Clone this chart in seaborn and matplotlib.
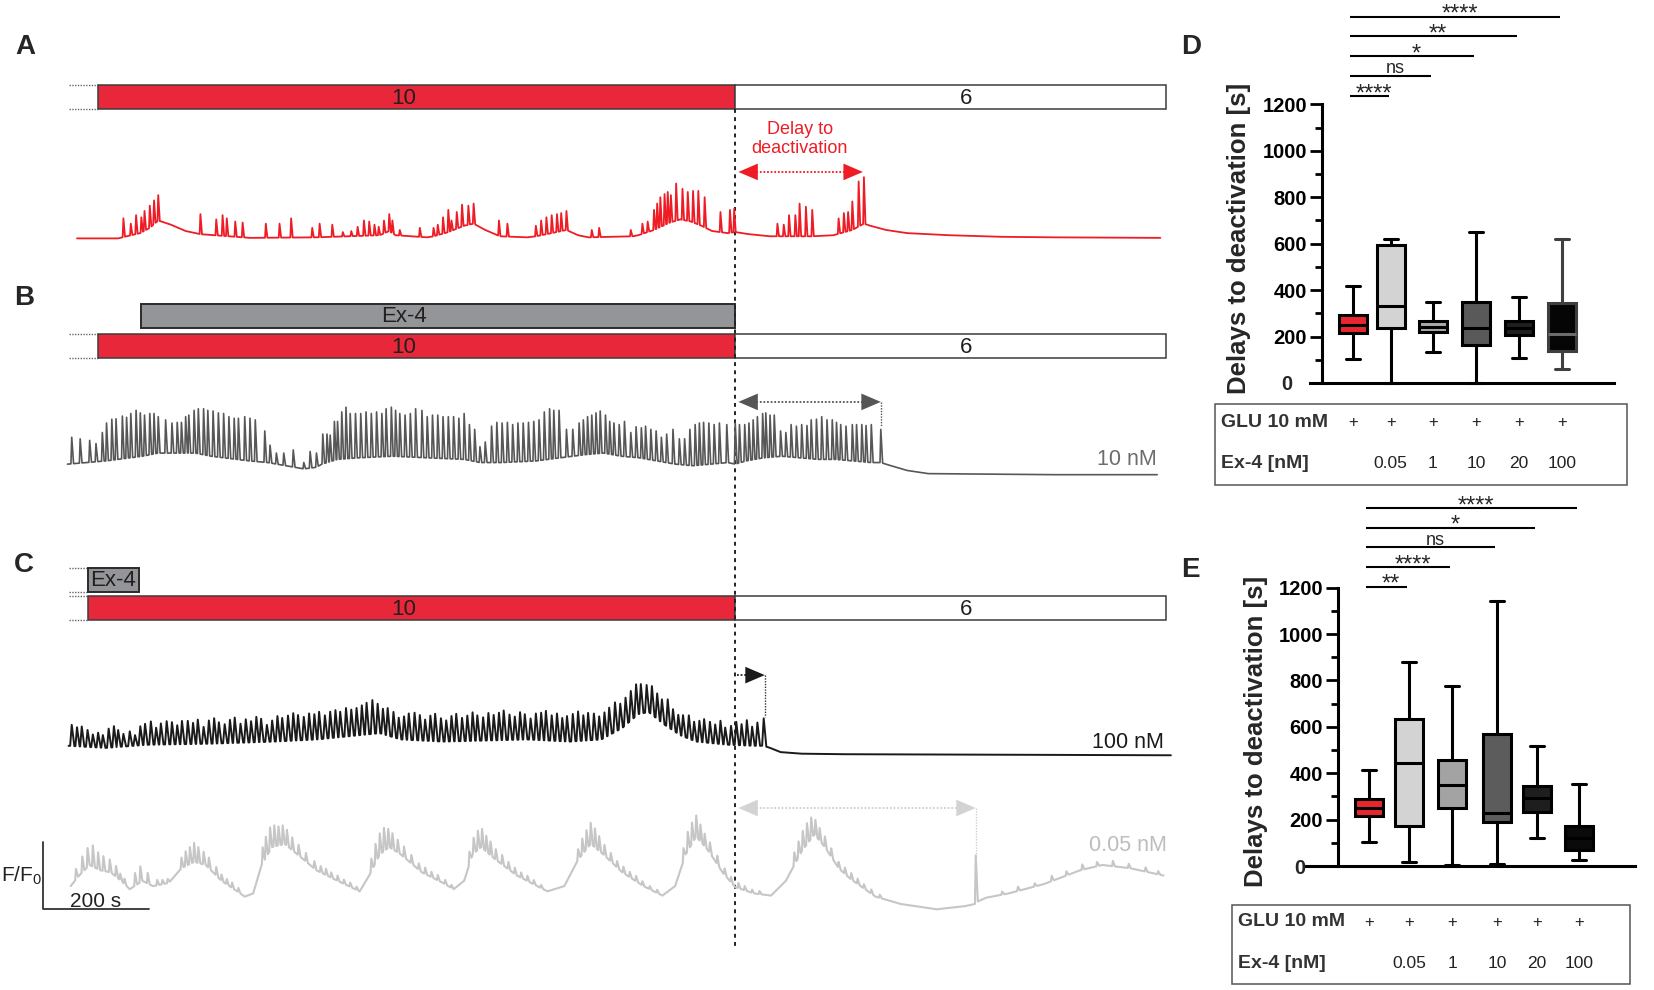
import numpy as np
import pandas as pd
import matplotlib
matplotlib.use("Agg")
import matplotlib.pyplot as plt
import matplotlib.transforms as mtransforms
from matplotlib.patches import Rectangle
from matplotlib.ticker import MultipleLocator
import seaborn as sns

sns.set_theme(style="ticks")
plt.rcParams["font.family"] = ["Liberation Sans", "DejaVu Sans"]

W, H = 1654, 990
K = 1654 / 1568          # sketch units -> pixels
LEFT_W = 1180            # width of the trace panel in px
T_MAX = LEFT_W / K * 2   # seconds spanned by the trace panel

# ---------------- protocol (s) ----------------
REC_START = 130
GLU_START = 186
EX4_START_B = 268
EX4_START_C = 166
EX4_END_C = 264
SWITCH_T = 1394
REC_END = 2210

# ---------------- trace A : 10 -> 6 mM glucose (a.u.) ----------------
a_base_t = [146, 224, 240, 266, 284, 300, 324, 352, 380, 434, 474, 600, 720, 738, 750, 810, 822, 850,
            880, 898, 920, 948, 1000, 1016, 1046, 1074, 1096, 1116, 1200, 1210, 1240, 1270, 1290, 1310,
            1330, 1350, 1380, 1394, 1420, 1460, 1540, 1580, 1616, 1638, 1650, 1680, 1720, 1800, 1900,
            2000, 2200]
a_base_v = [0, 0, 2, 5, 10, 17, 13, 7, 4, 2, 0.5, 1, 3, 7, 3, 1, 2, 6,
            12, 14, 8, 2, 1, 2, 5, 8, 3, 1, 2, 3, 8, 15, 18, 16,
            12, 7, 5, 6, 4, 2, 2, 3, 8, 14, 12, 8, 5, 3, 1.5,
            1, 0.5]
a_spk_t = [234, 248, 258, 268, 274, 284, 292, 300, 380, 410,
           422, 430, 446, 460, 504, 530, 552, 592, 606, 630,
           650, 666, 678, 690, 700, 710, 718, 728, 738, 744,
           758, 796, 822, 830, 840, 850, 856, 866, 876, 888,
           898, 946, 962, 1016, 1026, 1036, 1046, 1056, 1064, 1074,
           1122, 1136, 1196, 1218, 1228, 1240, 1246, 1252, 1260, 1266,
           1272, 1282, 1294, 1304, 1314, 1324, 1336, 1366, 1384, 1392,
           1474, 1486, 1496, 1508, 1516, 1528, 1540, 1590, 1600, 1608,
           1616, 1628, 1638]
a_spk_peak = [19, 14, 22, 20, 26, 31, 36, 41, 23, 18,
              22, 19, 16, 15, 14, 14, 19, 10, 14, 13,
              6, 7, 11, 17, 16, 13, 11, 17, 23, 17,
              8, 10, 10, 13, 20, 27, 17, 25, 32, 31,
              33, 17, 14, 12, 17, 20, 22, 23, 24, 26,
              8, 10, 8, 14, 16, 27, 33, 39, 42, 44,
              41, 52, 47, 44, 45, 45, 39, 25, 27, 28,
              14, 13, 22, 22, 33, 30, 27, 19, 24, 25,
              35, 54, 58]

# ---------------- trace B : Ex-4 10 nM ----------------
b_base_t = [128, 200, 270, 300, 370, 400, 474, 508, 542, 576, 600, 610, 640, 680, 744, 810, 880, 910,
            950, 1016, 1062, 1110, 1144, 1178, 1212, 1246, 1280, 1314, 1348, 1380, 1394, 1414, 1448,
            1482, 1516, 1550, 1584, 1618, 1652, 1670, 1686, 1720, 1760, 2000, 2194]
b_base_v = [6, 9, 13.5, 16.5, 16.5, 13.5, 9, 7.5, 4.5, 1.5, 3, 6, 10.5, 12, 13.5, 12, 10.5, 7.5,
            7.5, 9, 12, 15, 16.5, 13.5, 12, 9, 6, 4.5, 6, 7.5, 6, 9, 12,
            13.5, 12, 10.5, 10.5, 9, 7.5, 7.5, 5, 0, -3, -4, -4]
b_spk_t = [136, 152, 170, 182, 194, 202, 212, 220, 232, 240,
           248, 258, 266, 274, 284, 292, 300, 314, 326, 336,
           344, 352, 358, 368, 376, 386, 394, 404, 414, 424,
           434, 444, 452, 464, 474, 484, 502, 512, 524, 538,
           556, 576, 588, 600, 612, 620, 626, 634, 640, 648,
           656, 664, 674, 684, 694, 704, 714, 724, 732, 742,
           750, 758, 768, 778, 788, 800, 810, 820, 830, 840,
           850, 860, 870, 880, 890, 900, 910, 920, 932, 942,
           952, 962, 972, 982, 992, 1002, 1012, 1022, 1032, 1042,
           1050, 1060, 1074, 1086, 1098, 1106, 1114, 1122, 1130, 1138,
           1148, 1156, 1164, 1174, 1184, 1196, 1206, 1216, 1224, 1234,
           1244, 1254, 1264, 1276, 1288, 1298, 1308, 1318, 1326, 1334,
           1344, 1354, 1364, 1378, 1394, 1402, 1412, 1420, 1428, 1436,
           1446, 1452, 1460, 1468, 1480, 1490, 1500, 1510, 1520, 1530,
           1538, 1548, 1558, 1568, 1578, 1586, 1594, 1604, 1616, 1624,
           1634, 1642, 1652, 1670]
b_spk_peak = [31.5, 30, 28.5, 25.5, 36, 45, 48.6, 49, 51.6, 50.4,
              54, 57, 54.6, 52.5, 54, 54, 51, 48, 45, 45.6,
              45.6, 51, 52.5, 57, 58.5, 58.5, 57, 56.4, 54.6, 54,
              51, 49.5, 49.5, 51, 49.5, 48, 37.5, 24, 16.5, 16.5,
              19.5, 7.5, 18, 16.5, 34.5, 34.5, 33.6, 46.5, 46.5, 55.5,
              60, 54, 54, 54, 55.5, 54, 55.5, 54, 58.5, 60,
              57, 54, 52.5, 54, 58.5, 57, 51, 52.5, 52.5, 51,
              51, 51, 49.5, 54, 43.5, 39, 22.5, 27, 42, 45.6,
              45, 45.6, 43.5, 45, 45, 45.6, 46.5, 48, 55.5, 58.5,
              57, 57, 39, 39, 45, 48, 51, 52.5, 54.6, 56.4,
              52.5, 46.5, 45, 43.5, 46.5, 36, 41.4, 40.5, 42, 39,
              37.5, 31.5, 34.5, 39, 30, 30, 39, 43.5, 45, 45.6,
              45, 43.5, 45, 43.5, 45, 43.5, 43.5, 45, 48, 51,
              54, 54.6, 52.5, 52.5, 37.5, 36, 43.5, 42, 43.5, 42.6,
              48, 48.6, 51, 48, 48, 45.6, 43.5, 42, 43.5, 43.5,
              43.5, 42.6, 43.5, 39]

# ---------------- trace C : Ex-4 100 nM ----------------
c_base_t = [130, 200, 280, 400, 520, 600, 680, 720, 760, 840, 920, 1000, 1080, 1140, 1180, 1210, 1230,
            1260, 1290, 1320, 1380, 1430, 1448, 1460, 1480, 1520, 1600, 2220]
c_base_v = [8, 6, 9, 10, 12, 14, 18, 20, 14, 12, 13, 14, 12, 14, 25, 38, 40,
            28, 18, 12, 9, 8, 8, 6, 2, 0.5, 0, -1]
c_spk_t = [136, 146, 155, 166, 176, 186, 195, 206, 216, 224,
           234, 246, 256, 266, 275, 286, 296, 305, 316, 326,
           336, 345, 356, 366, 375, 386, 396, 406, 415, 426,
           436, 445, 456, 466, 476, 486, 495, 506, 516, 526,
           535, 546, 556, 565, 576, 586, 596, 605, 616, 626,
           636, 645, 656, 666, 676, 686, 695, 706, 716, 726,
           735, 746, 756, 766, 775, 786, 796, 806, 816, 825,
           836, 846, 856, 865, 876, 886, 896, 905, 916, 926,
           936, 946, 955, 966, 976, 986, 995, 1006, 1016, 1026,
           1035, 1046, 1056, 1066, 1075, 1086, 1096, 1106, 1115, 1126,
           1136, 1146, 1155, 1166, 1176, 1186, 1196, 1206, 1215, 1226,
           1236, 1246, 1255, 1266, 1276, 1286, 1295, 1306, 1316, 1326,
           1335, 1346, 1356, 1366, 1375, 1386, 1396, 1406, 1416, 1426,
           1436, 1448]
c_spk_h = [20, 18, 19, 16, 12, 14, 12, 18, 20, 16,
           12, 14, 10, 18, 20, 22, 16, 20, 22, 21,
           18, 22, 22, 20, 23, 16, 22, 24, 20, 18,
           22, 24, 18, 22, 20, 24, 22, 16, 20, 24,
           22, 24, 26, 24, 22, 25, 24, 26, 22, 25,
           26, 24, 27, 25, 26, 28, 30, 32, 28, 24,
           26, 24, 20, 22, 25, 26, 24, 20, 24, 26,
           22, 20, 24, 26, 22, 24, 27, 24, 22, 26,
           24, 26, 28, 24, 22, 26, 24, 20, 25, 26,
           28, 24, 26, 22, 24, 26, 28, 24, 26, 25,
           22, 24, 26, 28, 24, 26, 28, 30, 28, 26,
           27, 24, 22, 26, 20, 18, 20, 22, 18, 20,
           22, 20, 18, 22, 16, 18, 22, 20, 24, 18,
           22, 26]

# ---------------- trace D : Ex-4 0.05 nM ----------------
e_base_t = [134, 150, 170, 190, 210, 230, 246, 270, 290, 320, 344, 368, 390, 420, 450, 464, 480, 496,
            516, 540, 564, 600, 640, 682, 700, 720, 738, 760, 800, 840, 860, 880, 896, 912, 940, 980,
            1038, 1070, 1096, 1120, 1144, 1180, 1220, 1256, 1280, 1300, 1320, 1344, 1370, 1394, 1430,
            1462, 1490, 1520, 1544, 1564, 1590, 1612, 1660, 1708, 1776, 1830, 1848, 1852, 1870, 1912,
            1980, 2048, 2090, 2142, 2206]
e_base_v = [25, 35, 45, 40, 38, 30, 22, 30, 25, 28, 42, 48, 45, 30, 20, 15, 18, 45,
            62, 65, 55, 40, 30, 20, 35, 55, 62, 55, 38, 28, 22, 30, 55, 62, 50, 35,
            20, 25, 50, 65, 55, 38, 25, 16, 25, 55, 72, 58, 38, 24, 18,
            16, 30, 58, 74, 62, 42, 32, 15, 8, 3, 6, 8, 10, 14, 18,
            27, 40, 45, 42, 35]
# bursts on top of the slow waves
e_spk_t = [144, 156, 166, 176, 186, 196, 208, 220, 256, 266,
           280, 344, 352, 360, 368, 376, 386, 396, 410, 498,
           504, 512, 520, 528, 536, 544, 554, 566, 580, 596,
           704, 712, 720, 728, 736, 744, 754, 766, 780, 794,
           890, 898, 906, 914, 922, 930, 940, 952, 964, 1096,
           1104, 1112, 1120, 1128, 1136, 1146, 1158, 1296, 1304, 1312,
           1320, 1328, 1336, 1346, 1360, 1506, 1514, 1522, 1530, 1538,
           1546, 1554, 1564, 1576, 1590, 1850]
e_spk_h = [10, 15, 18, 20, 16, 14, 12, 10, 12, 15,
           10, 10, 14, 16, 18, 15, 12, 10, 8, 15,
           20, 22, 20, 18, 18, 15, 12, 10, 8, 7,
           12, 18, 20, 22, 18, 15, 12, 10, 8, 6,
           12, 15, 18, 18, 15, 13, 10, 9, 7, 10,
           15, 18, 20, 18, 14, 10, 8, 12, 18, 20,
           20, 16, 12, 10, 8, 12, 15, 18, 20, 20,
           15, 12, 10, 8, 6, 45]
# small events on the falling flanks and the late recovery
e_small_t = [228, 236, 298, 308, 318, 420, 430, 440, 452, 608, 618, 628, 640, 652, 664, 676,
             806, 818, 830, 844, 856, 976, 988, 1000, 1012, 1026, 1170, 1182, 1194, 1206, 1218,
             1232, 1246, 1374, 1386, 1400, 1412, 1426, 1440, 1602, 1614, 1626, 1638, 1652, 1668,
             1900, 1930, 1962, 1994, 2022, 2052, 2080, 2110, 2140, 2172, 2196]
e_small_h = [6, 5, 5, 4, 4, 6, 5, 5, 4, 6, 6, 5, 5, 4, 4, 3,
             6, 5, 5, 4, 3, 6, 5, 5, 4, 3, 6, 6, 5, 5, 4,
             3, 3, 6, 5, 5, 4, 3, 3, 6, 6, 5, 4, 4, 3,
             3, 4, 3, 5, 4, 5, 4, 5, 4, 4, 3]

# ---------------- box plots : delays to deactivation (s) ----------------
groups = ["GLU", "0.05", "1", "10", "20", "100"]
ex4_labels = ["", "0.05", "1", "10", "20", "100"]

d_low = [102, 0, 132, 0, 106, 60]
d_q1 = [216, 238, 218, 163, 206, 139]
d_med = [249, 333, 242, 235, 235, 209]
d_q3 = [292, 594, 267, 350, 267, 343]
d_high = [417, 618, 350, 651, 371, 619]
d_sig = ["****", "ns", "*", "**", "****"]

e_low = [102, 19, 4, 7, 119, 27]
e_q1 = [215, 173, 251, 188, 234, 68]
e_med = [248, 442, 351, 229, 294, 122]
e_q3 = [288, 632, 459, 568, 344, 172]
e_high = [416, 879, 778, 1144, 516, 353]
e_sig = ["**", "****", "ns", "*", "****"]

d_colors = ["#e8262f", "#d3d3d3", "#a9a9a9", "#595959", "#1f1f1f", "#050505"]
e_colors = ["#e8262f", "#d3d3d3", "#a3a3a3", "#5c5c5c", "#1e1e1e", "#0a0a0a"]

# layout of the box panels (slot units, 1 slot = 42 px)
D_POS = [0, 0.9, 1.9, 2.93, 3.95, 4.98]
E_POS = [0, 0.95, 1.98, 3.05, 4.0, 5.0]

RED = "#e8283a"
EX4_GREY = "#939598"


def build_trace(bt, bv, st, sp, rise, fall, relative):
    bt = np.asarray(bt, float)
    bv = np.asarray(bv, float)
    n = min(len(st), len(sp))
    st = np.asarray(st[:n], float)
    sp = np.asarray(sp[:n], float)
    order = np.argsort(st)
    st, sp = st[order], sp[order]
    pts = []
    for t, v in zip(bt, bv):
        if not np.any((t > st - rise) & (t < st + fall)):
            pts.append((t, v))
    for i in range(n):
        t = st[i]
        f = fall
        if i + 1 < n:
            f = min(fall, st[i + 1] - rise - t - 0.2)
        base = np.interp(t, bt, bv)
        peak = base + sp[i] if relative else sp[i]
        pts.append((t - rise, np.interp(t - rise, bt, bv)))
        pts.append((t, peak))
        pts.append((t + f, np.interp(t + f, bt, bv)))
    pts.sort()
    arr = np.array(pts)
    return arr[:, 0], arr[:, 1]


fig = plt.figure(figsize=(W / 100, H / 100), dpi=100)

# ---------------- left panel canvas (x: s, y: sketch rows) ----------------
axL = fig.add_axes([0, 0, LEFT_W / W, 1])
axL.set_xlim(0, T_MAX)
axL.set_ylim(H / K, 0)
axL.axis("off")


def trace_axes(zero, top, bot):
    ax = fig.add_axes([0, 1 - bot * K / H, LEFT_W / W, (bot - top) * K / H])
    ax.set_xlim(0, T_MAX)
    ax.set_ylim(zero - bot, zero - top)
    ax.axis("off")
    ax.patch.set_alpha(0)
    return ax


def bar(t0, t1, y0, y1, fc, label=None, tx=None, ec="#3c3c3c", lw=1.1):
    axL.add_patch(Rectangle((t0, y0), t1 - t0, y1 - y0, facecolor=fc, edgecolor=ec, lw=lw, zorder=3))
    if label:
        axL.text(tx if tx is not None else (t0 + t1) / 2, (y0 + y1) / 2 + 1, label, ha="center",
                 va="center", fontsize=16, color="#231f20", zorder=4)


def lead(t1, ys):
    for y in ys:
        axL.plot([REC_START, t1], [y, y], color="#666666", lw=1.0, ls=(0, (1, 1)))


def heads(y, tips, color):
    for tip, direction in tips:
        axL.annotate("", xy=(tip, y), xytext=(tip - 40 * direction, y),
                     arrowprops=dict(arrowstyle="-|>,head_length=0.7,head_width=0.3", mutation_scale=20,
                                     color=color, lw=0, shrinkA=0, shrinkB=0))


# --- A ---
bar(GLU_START, SWITCH_T, 81, 103, RED, "10", tx=766)
bar(SWITCH_T, REC_END, 81, 103, "white", "6", tx=1832)
lead(GLU_START, [81, 103])

# --- B ---
bar(EX4_START_B, SWITCH_T, 288, 311, EX4_GREY, "Ex-4", tx=766, ec="#2b2b2b", lw=1.4)
bar(GLU_START, SWITCH_T, 317, 339, RED, "10", tx=766)
bar(SWITCH_T, REC_END, 317, 339, "white", "6", tx=1832)
lead(GLU_START, [317, 339])

# --- C ---
bar(EX4_START_C, EX4_END_C, 538, 561, EX4_GREY, "Ex-4", ec="#2b2b2b", lw=1.4)
bar(EX4_START_C, SWITCH_T, 565, 588, RED, "10", tx=766)
bar(SWITCH_T, REC_END, 565, 588, "white", "6", tx=1832)
lead(EX4_START_C, [538, 561, 565, 588])

# switch marker
axL.plot([SWITCH_T, SWITCH_T], [103, 900], color="#222222", lw=1.4, ls=(0, (2, 2.2)), zorder=5)

# delay arrows
axL.plot([1420, 1616], [163, 163], color="#ee1c25", lw=1.3, ls=(0, (1, 1)))
heads(163, [(1400, -1), (1636, 1)], "#ee1c25")
axL.text(1516, 132, "Delay to\ndeactivation", ha="center", va="center", fontsize=13,
         color="#ee1c25", linespacing=1.15)

axL.plot([1420, 1650], [381, 381], color="#555555", lw=1.3, ls=(0, (1, 1)))
heads(381, [(1400, -1), (1670, 1)], "#555555")
axL.plot([1670, 1670], [381, 405], color="#555555", lw=1.0, ls=(0, (1, 1)))

axL.plot([1398, 1430], [640, 640], color="#222222", lw=1.3, ls=(0, (1, 1)))
heads(640, [(1450, 1)], "#1a1a1a")
axL.plot([1450, 1450], [640, 680], color="#333333", lw=1.0, ls=(0, (1, 1)))

axL.plot([1420, 1830], [766, 766], color="#d0d0d0", lw=1.3, ls=(0, (1, 1)))
heads(766, [(1400, -1), (1850, 1)], "#d3d3d3")
axL.plot([1850, 1850], [766, 812], color="#d0d0d0", lw=1.0, ls=(0, (1, 1)))

# traces
axA = trace_axes(226, 140, 240)
tx, vy = build_trace(a_base_t, a_base_v, a_spk_t, a_spk_peak, 1.5, 3, False)
sns.lineplot(x=tx, y=vy, ax=axA, color="#ee1c25", linewidth=1.3, estimator=None, sort=False)

axB = trace_axes(446, 370, 460)
tx, vy = build_trace(b_base_t, b_base_v, b_spk_t, b_spk_peak, 1.5, 3.5, False)
sns.lineplot(x=tx, y=vy, ax=axB, color="#575757", linewidth=1.2, estimator=None, sort=False)

axC = trace_axes(715, 630, 725)
tx, vy = build_trace(c_base_t, c_base_v, c_spk_t, c_spk_h, 3, 5, True)
sns.lineplot(x=tx, y=vy, ax=axC, color="#1a1a1a", linewidth=1.4, estimator=None, sort=False)

axE = trace_axes(865, 760, 875)
tx, vy = build_trace(e_base_t, e_base_v, e_spk_t + e_small_t, e_spk_h + e_small_h, 1.5, 4, True)
sns.lineplot(x=tx, y=vy, ax=axE, color="#c6c6c6", linewidth=1.5, estimator=None, sort=False)

for ax in (axA, axB, axC, axE):
    ax.set_xlim(0, T_MAX)
    ax.axis("off")

axL.text(2194, 436, "10 nM", ha="right", va="center", fontsize=15.5, color="#6d6d6d")
axL.text(2206, 704, "100 nM", ha="right", va="center", fontsize=15.5, color="#1a1a1a")
axL.text(2212, 802, "0.05 nM", ha="right", va="center", fontsize=15.5, color="#bdbdbd")

# scale bar
axL.plot([82, 82, 282], [798, 862, 862], color="#333333", lw=1.3)
axL.text(40, 830, r"F/F$_\mathregular{0}$", ha="center", va="center", fontsize=15, color="#222222")
axL.text(132, 855, "200 s", ha="left", va="center", fontsize=15, color="#222222")

for lab, (x, y) in zip("ABC", [(25, 47), (24, 298), (24, 565)]):
    fig.text(x / W, 1 - y / H, lab, ha="center", va="center", fontsize=20, fontweight="bold")


# ---------------- box panels ----------------
def box_panel(left, right, top, bot, x_left, x_spine, x_right, pos, stats, colors, width, sig, sig_y0,
              sig_step, zero_shift):
    ax = fig.add_axes([left / W, 1 - bot / H, (right - left) / W, (bot - top) / H])
    rows = []
    for g, p, *vals in zip(groups, pos, *stats):
        for v in vals:
            rows.append((g, p, v))
    df = pd.DataFrame(rows, columns=["grp", "pos", "val"])
    sns.boxplot(data=df, x="pos", y="val", hue="grp", hue_order=groups, palette=colors,
                native_scale=True, dodge=False, saturation=1, width=width, linewidth=2.2,
                linecolor="black", whis=(0, 100), showfliers=False, legend=False, ax=ax)
    for art in ax.get_children():
        try:
            art.set_clip_on(False)
        except Exception:
            pass
    ax.set_xlim(x_left, x_right)
    ax.set_ylim(0, 1200)
    ax.set_xlabel("")
    ax.set_xticks([])
    ax.set_facecolor("none")
    sns.despine(ax=ax)
    ax.spines["left"].set_position(("data", x_spine))
    for s in ("left", "bottom"):
        ax.spines[s].set_linewidth(2.2)
        ax.spines[s].set_color("black")
    ax.set_yticks(range(0, 1201, 200))
    ax.set_yticklabels(["" if v == 0 else str(v) for v in range(0, 1201, 200)])
    ax.yaxis.set_minor_locator(MultipleLocator(100))
    ax.tick_params(axis="y", which="major", length=8.6, width=2, pad=2.2, labelsize=14.5, colors="black")
    ax.tick_params(axis="y", which="minor", length=5, width=2, colors="black")
    for t in ax.get_yticklabels():
        t.set_fontweight("bold")
    ax.annotate("0", xy=(x_spine, 0), xytext=(-zero_shift, 0), textcoords="offset points", ha="right",
                va="center_baseline", fontsize=14.5, fontweight="bold", annotation_clip=False)
    ax.set_ylabel("Delays to deactivation [s]", fontsize=18.5, fontweight="bold")
    # significance bars
    x0 = pos[0] - 0.07
    for i, lab in enumerate(sig):
        y = sig_y0 + i * sig_step
        x1 = pos[i + 1] - 0.04
        ax.plot([x0, x1], [y, y], color="black", lw=1.5, clip_on=False, solid_capstyle="butt")
        xc = (x0 + x1) / 2 + 0.1
        if lab == "ns":
            ax.annotate(lab, (xc, y), xytext=(0, 2), textcoords="offset points", ha="center",
                        va="baseline", fontsize=13, annotation_clip=False)
        else:
            ax.annotate(lab, (xc, y), xytext=(0, -3), textcoords="offset points", ha="center",
                        va="baseline", fontsize=17, annotation_clip=False)
    return ax


def table(ax, left, top, right, bot, y1, y2, pos):
    fig.add_artist(Rectangle((left / W, 1 - bot / H), (right - left) / W, (bot - top) / H,
                             transform=fig.transFigure, fill=False, ec="#555555", lw=1.1))
    fig.text((left + 6) / W, 1 - y1 / H, "GLU 10 mM", ha="left", va="center", fontsize=14,
             fontweight="bold", color="#333333")
    fig.text((left + 6) / W, 1 - y2 / H, "Ex-4 [nM]", ha="left", va="center", fontsize=14,
             fontweight="bold", color="#333333")
    trans = mtransforms.blended_transform_factory(ax.transData, fig.transFigure)
    for p, lab in zip(pos, ex4_labels):
        ax.text(p, 1 - y1 / H, "+", transform=trans, ha="center", va="center", fontsize=12, color="#222222")
        if lab:
            ax.text(p, 1 - y2 / H, lab, transform=trans, ha="center", va="center", fontsize=12.5,
                    color="#222222")


axD = box_panel(1310, 1614, 104.3, 383, -1.024, -0.738, 6.214, D_POS,
                (d_low, d_q1, d_med, d_q3, d_high), d_colors, 0.74, d_sig, 1236, 85.5, 21.6)
axD.yaxis.set_label_coords(-0.194, 0.52)
try:
    last = axD.containers[-1]
    for b in last.boxes:
        b.set_edgecolor("#3f3f3f")
    for ln in list(last.whiskers) + list(last.caps):
        ln.set_color("#3f3f3f")
    for ln in last.medians:
        ln.set_color("#6b6b6b")
except Exception:
    pass
table(axD, 1215, 404, 1627, 485, 422, 463, D_POS)

axE2 = box_panel(1305, 1635, 587.7, 866, -1.524, -0.738, 6.333, E_POS,
                 (e_low, e_q1, e_med, e_q3, e_high), e_colors, 0.70, e_sig, 1204, 85, 23.8)
axE2.yaxis.set_label_coords(-0.112, 0.483)
table(axE2, 1232, 905, 1630, 984, 922, 963, E_POS)

fig.text(1191 / W, 1 - 47 / H, "D", ha="center", va="center", fontsize=20, fontweight="bold")
fig.text(1190 / W, 1 - 570 / H, "E", ha="center", va="center", fontsize=20, fontweight="bold")

fig.savefig("out.png", dpi=100, facecolor="white")
